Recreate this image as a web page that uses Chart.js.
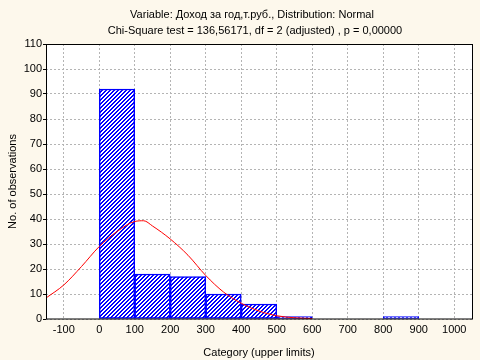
<!DOCTYPE html>
<html>
<head>
<meta charset="utf-8">
<script src="https://cdn.jsdelivr.net/npm/chart.js@4"></script>
<style>
html,body{margin:0;padding:0;background:#fdf8ec;}
#wrap{width:480px;height:360px;position:relative;}
</style>
</head>
<body>
<div id="wrap"><canvas id="c" width="480" height="360"></canvas></div>
<script>
// Histogram bins (upper limits) and observed counts
const binLower = [0, 100, 200, 300, 400, 500, 600, 700, 800];
const binUpper = [100, 200, 300, 400, 500, 600, 700, 800, 900];
const counts   = [92, 18, 17, 10, 6, 1, 0, 0, 1];

// Fitted normal curve
const curveX = [-150, -100, -50, 0, 50, 100, 125, 150, 200, 250, 300, 350, 400, 450, 500, 550, 600];
const curveY = [8.4, 13.6, 21, 29, 35, 39, 39.3, 37.2, 32, 25.5, 17.4, 10.8, 6.3, 3.2, 1.3, 0.5, 0.2];

const xTicks = [-100, 0, 100, 200, 300, 400, 500, 600, 700, 800, 900, 1000];
const yTicks = [0, 10, 20, 30, 40, 50, 60, 70, 80, 90, 100, 110];

const titleLines = [
  'Variable: Доход за год,т.руб., Distribution: Normal',
  'Chi-Square test = 136,56171, df = 2 (adjusted) , p = 0,00000'
];
const xTitle = 'Category (upper limits)';
const yTitle = 'No. of observations';

const FONT = '"Liberation Sans", Arial, sans-serif';

// hatch pattern: diagonal blue lines rising to the right
const pc = document.createElement('canvas');
pc.width = 4; pc.height = 4;
const pctx = pc.getContext('2d');
pctx.fillStyle = 'rgb(255,255,255)';
pctx.fillRect(0, 0, 4, 4);
pctx.fillStyle = 'rgb(0,0,255)';
for (let i = 0; i < 4; i++) {
  pctx.fillRect(3 - i, i, 1, 1);
  pctx.fillRect((4 - i) % 4, i, 1, 1);
}
const ctx0 = document.getElementById('c').getContext('2d');
const hatch = ctx0.createPattern(pc, 'repeat');

const barData = counts.map((v, i) => ({x: (binLower[i] + binUpper[i]) / 2, y: v}));
const lineData = curveX.map((x, i) => ({x: x, y: curveY[i]}));

const framePlugin = {
  id: 'frame',
  beforeDraw(chart) {
    const {ctx, chartArea: a} = chart;
    ctx.save();
    ctx.fillStyle = '#fdf8ec';
    ctx.fillRect(0, 0, chart.width, chart.height);
    ctx.fillStyle = '#ffffff';
    ctx.fillRect(a.left, a.top, a.right - a.left, a.bottom - a.top);
    ctx.restore();
  },
  afterDraw(chart) {
    const {ctx, chartArea: a} = chart;
    ctx.save();
    ctx.strokeStyle = '#000000';
    ctx.lineWidth = 1;
    ctx.strokeRect(Math.round(a.left) + 0.5, Math.round(a.top) + 0.5,
                   Math.round(a.right - a.left), Math.round(a.bottom - a.top) - 0.5);
    ctx.fillStyle = '#000000';
    ctx.font = '11px ' + FONT;
    ctx.textAlign = 'center';
    ctx.textBaseline = 'middle';
    ctx.fillText(titleLines[0], 252, 15);
    ctx.fillText(titleLines[1], 255, 31);
    ctx.restore();
  }
};

new Chart(ctx0, {
  data: {
    datasets: [
      {
        type: 'line',
        data: lineData,
        borderColor: '#ff0000',
        borderWidth: 1,
        pointRadius: 0,
        tension: 0.4,
        cubicInterpolationMode: 'monotone',
        order: 0
      },
      {
        type: 'bar',
        data: barData,
        backgroundColor: hatch,
        borderColor: '#0000ff',
        borderWidth: 1.5,
        borderSkipped: false,
        barPercentage: 1,
        categoryPercentage: 1,
        order: 1
      }
    ]
  },
  options: {
    responsive: false,
    animation: false,
    layout: {padding: {top: 44, right: 8, left: 0, bottom: 0}},
    plugins: {legend: {display: false}, tooltip: {enabled: false}, title: {display: false}},
    scales: {
      x: {
        type: 'linear',
        offset: false,
        min: -150, max: 1050,
        afterBuildTicks(s) { s.ticks = xTicks.map(v => ({value: v})); },
        afterFit(s) { s.height = 41; },
        ticks: {font: {family: FONT, size: 11}, color: '#000', padding: 4, maxRotation: 0,
                callback: v => String(v)},
        grid: {offset: false, color: '#b4b4b4', lineWidth: 1, drawTicks: false},
        border: {display: false, dash: [2, 2]},
        title: {display: true, text: xTitle, font: {family: FONT, size: 11}, color: '#000', padding: {top: 6, bottom: 0}}
      },
      y: {
        type: 'linear',
        min: 0, max: 110,
        afterBuildTicks(s) { s.ticks = yTicks.map(v => ({value: v})); },
        afterFit(s) { s.width = 46; },
        ticks: {font: {family: FONT, size: 11}, color: '#000', padding: 1, callback: v => String(v)},
        grid: {color: '#b4b4b4', lineWidth: 1, tickLength: 3, tickColor: '#000', tickBorderDash: [0, 0]},
        border: {display: false, dash: [2, 2]},
        title: {display: true, text: yTitle, font: {family: FONT, size: 11}, color: '#000', padding: {top: 6, bottom: 0}}
      }
    }
  },
  plugins: [framePlugin]
});
</script>
</body>
</html>
